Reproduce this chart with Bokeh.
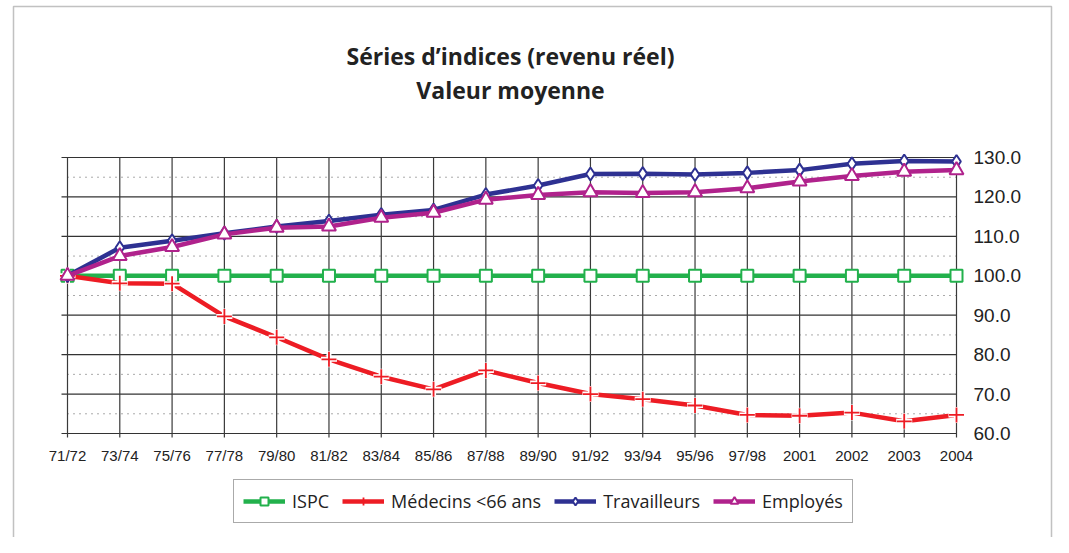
from bokeh.plotting import figure
from bokeh.models import Range1d, Legend, LegendItem, Label, BoxAnnotation
from bokeh.embed import file_html
from bokeh.resources import INLINE
from bokeh.core.properties import value

periods = ["71/72", "73/74", "75/76", "77/78", "79/80", "81/82", "83/84", "85/86",
           "87/88", "89/90", "91/92", "93/94", "95/96", "97/98", "2001", "2002",
           "2003", "2004"]
ispc = [100.0, 100.0, 100.0, 100.0, 100.0, 100.0, 100.0, 100.0, 100.0,
        100.0, 100.0, 100.0, 100.0, 100.0, 100.0, 100.0, 100.0, 100.0]
medecins = [100.0, 98.1, 98.0, 89.7, 84.4, 78.8, 74.4, 71.2, 76.0,
            72.8, 70.0, 68.7, 67.1, 64.7, 64.5, 65.3, 63.1, 64.7]
travailleurs = [100.0, 107.1, 108.9, 110.8, 112.5, 113.9, 115.5, 116.7, 120.6,
                122.9, 125.8, 125.9, 125.7, 126.1, 126.8, 128.4, 129.1, 129.0]
employes = [100.0, 105.0, 107.3, 110.5, 112.2, 112.5, 114.7, 116.0, 119.3,
            120.5, 121.2, 121.0, 121.2, 122.2, 123.9, 125.3, 126.4, 126.8]
y_major = [60, 70, 80, 90, 100, 110, 120, 130]
y_minor = [65, 75, 85, 95, 105, 115, 125]
y_labels = ["60.0", "70.0", "80.0", "90.0", "100.0", "110.0", "120.0", "130.0"]

xs = list(range(len(periods)))
last = len(periods) - 1

W, H = 1053, 537
# pixel geometry of the plotting grid (canvas pixels)
PX0, PX1 = 67.0, 956.0         # x of first / last period
PY_TOP, PY_BOT = 157.0, 433.0  # y of 130 / 60
ux = (PX1 - PX0) / last
uy = (PY_BOT - PY_TOP) / (y_major[-1] - y_major[0])

p = figure(width=W, height=H, output_backend="svg", toolbar_location=None,
           x_range=Range1d(-PX0 / ux, (W - PX0) / ux),
           y_range=Range1d(y_major[0] - (H - PY_BOT) / uy, y_major[-1] + PY_TOP / uy),
           min_border=0)
p.xaxis.visible = False
p.yaxis.visible = False
p.xgrid.visible = False
p.ygrid.visible = False
p.outline_line_color = None

def px_x(px):
    return (px - PX0) / ux

def px_y(py):
    return y_major[-1] + (PY_TOP - py) / uy

# grid: dotted minor lines
p.segment(x0=[0] * len(y_minor), y0=y_minor, x1=[last] * len(y_minor), y1=y_minor,
          line_color="#555555", line_width=1, line_dash="1 5")
# major horizontal lines (extend a little left as ticks)
p.segment(x0=[px_x(61)] * len(y_major), y0=y_major, x1=[last] * len(y_major), y1=y_major,
          line_color="#333333", line_width=1.2)
# vertical lines (extend a little below as ticks)
p.segment(x0=xs, y0=[px_y(437)] * len(xs), x1=xs, y1=[y_major[-1]] * len(xs),
          line_color="#3a3a3a", line_width=1.2)

# axis tick labels
p.text(x=xs, y=[px_y(455)] * len(xs), text=periods, text_align="center",
       text_baseline="middle", text_font=value("Liberation Sans"),
       text_font_size="15px", text_color="#222222")
p.text(x=[px_x(973)] * len(y_major), y=y_major, text=y_labels, text_align="left",
       text_baseline="middle", text_font=value("Liberation Sans"),
       text_font_size="19px", text_color="#222222")

# series
l1 = p.line(xs, ispc, line_color="#22B14C", line_width=4.5)
s1 = p.scatter(xs, ispc, marker="square", size=12, line_color="#22B14C",
               fill_color="white", line_width=2)
l2 = p.line(xs, medecins, line_color="#ED1C24", line_width=4.5)
p.scatter(xs, medecins, marker="cross", size=16, line_color="white", line_width=5)
s2 = p.scatter(xs, medecins, marker="cross", size=15, line_color="#ED1C24",
               line_width=1.8)
l3 = p.line(xs, travailleurs, line_color="#2E3192", line_width=4.5)
s3 = p.scatter(xs, travailleurs, marker="diamond", size=13, line_color="#2E3192",
               fill_color="white", line_width=2)
l4 = p.line(xs, employes, line_color="#B0228C", line_width=4.5)
s4 = p.scatter(xs, employes, marker="triangle", size=14, line_color="#B0228C",
               fill_color="white", line_width=2)

legend = Legend(items=[
    LegendItem(label="ISPC", renderers=[l1, s1]),
    LegendItem(label="Médecins <66 ans", renderers=[l2, s2]),
    LegendItem(label="Travailleurs", renderers=[l3, s3]),
    LegendItem(label="Employés", renderers=[l4, s4]),
], orientation="horizontal", location=(233, H - 523))
legend.label_text_font = "Open Sans"
legend.label_text_font_size = "18px"
legend.label_text_color = "#222222"
legend.label_height = 22
legend.glyph_width = 42
legend.glyph_height = 20
legend.label_standoff = 7
legend.spacing = 13
legend.padding = 9
legend.border_line_color = "#555555"
legend.border_line_width = 1
legend.background_fill_alpha = 1
p.add_layout(legend, "center")

# titles
p.add_layout(Label(x=px_x(510), y=px_y(55), text="Séries d\u2019indices (revenu réel)",
                   text_align="center", text_baseline="middle",
                   text_font="Open Sans", text_font_style="bold",
                   text_font_size="23px", text_color="#222222"))
p.add_layout(Label(x=px_x(510), y=px_y(89), text="Valeur moyenne",
                   text_align="center", text_baseline="middle",
                   text_font="Open Sans", text_font_style="bold",
                   text_font_size="23px", text_color="#222222"))

# outer border
p.add_layout(BoxAnnotation(left=px_x(13), right=px_x(1051), top=px_y(6), bottom=px_y(600),
                           fill_alpha=0, line_color="#333333", line_width=1.5))

open("out.html", "w").write(file_html(p, INLINE))
